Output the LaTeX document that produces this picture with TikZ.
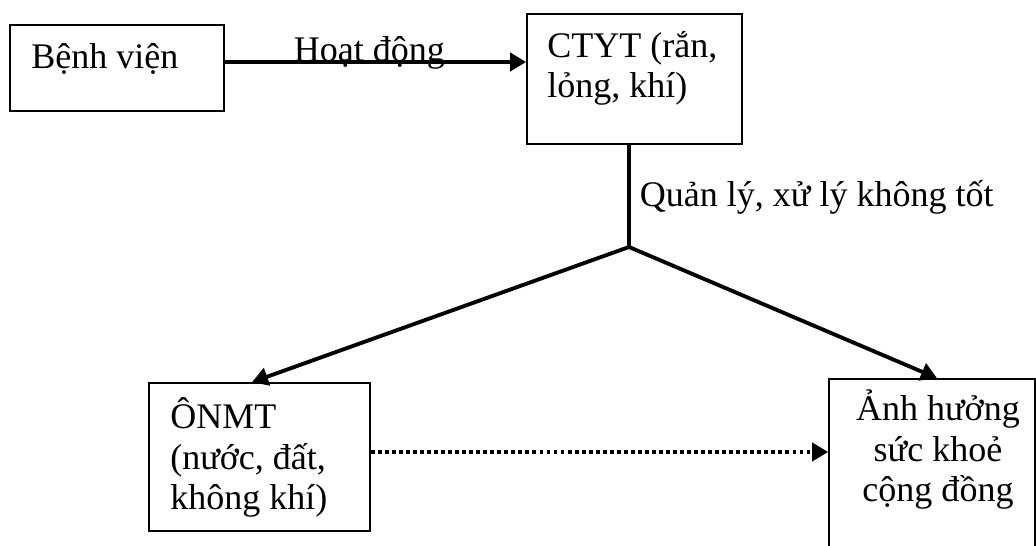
\documentclass[tikz,border=0pt]{standalone}
\usepackage{fontspec}
\setmainfont{Liberation Serif}
\usetikzlibrary{arrows.meta}
\tikzset{
  box/.style={draw, line width=1pt, inner sep=0pt},
  txt/.style={font=\fontsize{20.5pt}{23.3pt}\selectfont, inner sep=0pt},
  arr/.style={line width=2.2pt, -{Triangle[length=0.32cm,width=0.36cm]}},
  dotarr/.style={arr, dash pattern=on 2.2pt off 1.8pt}
}
\begin{document}
\begin{tikzpicture}[x=0.02cm,y=-0.02cm]
\useasboundingbox (0,0) rectangle (1036,546);

\node[box, minimum width=4.28cm, minimum height=1.72cm] (bv) at (117,68) {};
\node[box, minimum width=4.3cm, minimum height=2.6cm] (ctyt) at (634.5,79) {};
\node[box, minimum width=4.42cm, minimum height=2.96cm] (onmt) at (259.5,457) {};
\node[box, minimum width=4.12cm, minimum height=4.44cm] (ah) at (932,490) {};

% last-line baselines
\node[txt, anchor=base west] (bvt) at (31,69) {Bệnh viện};
\node[txt, anchor=base west, align=left] (ctytt) at (547,98) {CTYT (rắn,\\lỏng, khí)};
\node[txt, anchor=base west, align=left] (onmtt) at (170,510) {ÔNMT\\(nước, đất,\\không khí)};
\node[txt, anchor=base, align=center] (aht) at (938,502) {Ảnh hưởng\\sức khoẻ\\cộng đồng};

\coordinate (fork) at (629,247);

\draw[arr] (bv.east |- 0,62) -- node[txt, anchor=base, pos=0.48] (hd) {Hoạt động} (ctyt.west |- 0,62);
\draw[line width=2.2pt] (fork |- ctyt.south) -- node[txt, anchor=base west, pos=0.6, xshift=0.18cm] (ql) {Quản lý, xử lý không tốt} (fork);
\draw[arr] (fork) -- (onmt.north -| 252,0);
\draw[arr] (fork) -- (ah.north -| 937,0);
\draw[dotarr] (onmt.east |- 0,452) -- (ah.west |- 0,452);
\end{tikzpicture}
\end{document}
